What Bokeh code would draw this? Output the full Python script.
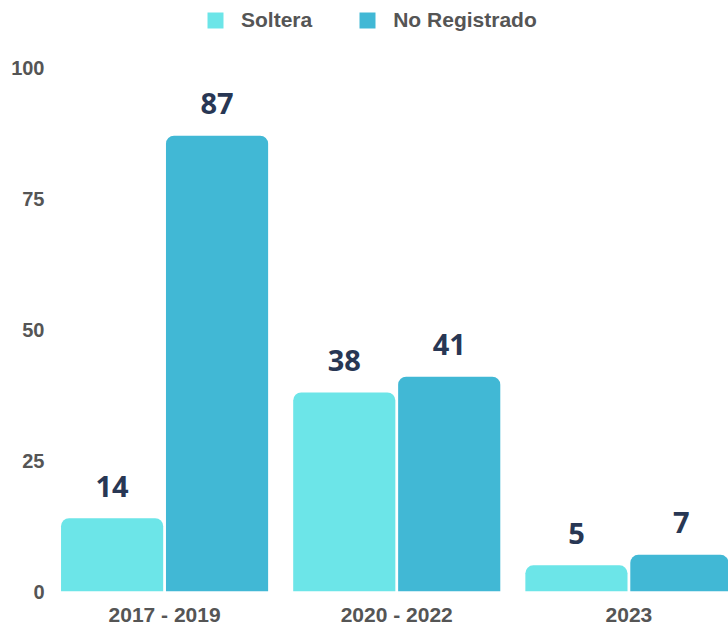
import numpy as np
from bokeh.plotting import figure
from bokeh.models import ColumnDataSource, FixedTicker, Legend, LegendItem, Range1d
from bokeh.core.properties import value
from bokeh.embed import file_html
from bokeh.resources import INLINE

periods = ["2017 - 2019", "2020 - 2022", "2023"]
soltera = [14, 38, 5]
no_registrado = [87, 41, 7]
series_names = ["Soltera", "No Registrado"]
y_ticks = [0, 25, 50, 75, 100]

c_sol = "#6CE5E8"
c_nr = "#41B8D5"
label_color = "#283754"
axis_color = "#555555"

x = np.arange(len(periods))
off = 0.226
bw = 0.44

p = figure(width=728, height=628, output_backend="svg", toolbar_location=None,
           x_range=Range1d(-0.5, 2.429), y_range=Range1d(0, 112.8),
           min_border_left=48, min_border_right=0, min_border_top=0, min_border_bottom=37)
p.outline_line_color = None
p.xgrid.grid_line_color = None
p.ygrid.grid_line_color = None

src1 = ColumnDataSource(dict(x=x - off, top=soltera, lab=[str(v) for v in soltera]))
src2 = ColumnDataSource(dict(x=x + off, top=no_registrado, lab=[str(v) for v in no_registrado]))

r1 = p.vbar(x="x", top="top", width=bw, source=src1, fill_color=c_sol, line_color=None,
            border_radius=(8, 8, 0, 0))
r2 = p.vbar(x="x", top="top", width=bw, source=src2, fill_color=c_nr, line_color=None,
            border_radius=(8, 8, 0, 0))

for s in (src1, src2):
    p.text(x="x", y="top", text="lab", source=s, text_align="center", text_baseline="alphabetic",
           y_offset=-32, text_font=value("Open Sans"), text_font_style="bold",
           text_font_size="29px", text_color=label_color)

p.xaxis.ticker = FixedTicker(ticks=list(x))
p.xaxis.major_label_overrides = {int(i): periods[i] for i in x}
p.yaxis.ticker = FixedTicker(ticks=y_ticks)
for ax in (p.xaxis, p.yaxis):
    ax.axis_line_color = None
    ax.major_tick_line_color = None
    ax.minor_tick_line_color = None
    ax.major_tick_out = 0
    ax.major_tick_in = 0
    ax.minor_tick_out = 0
    ax.major_label_text_font = "Liberation Sans"
    ax.major_label_text_font_style = "bold"
    ax.major_label_text_color = axis_color
p.xaxis.major_label_text_font_size = "21px"
p.yaxis.major_label_text_font_size = "20px"
p.xaxis.major_label_standoff = 11
p.yaxis.major_label_standoff = 4

legend = Legend(items=[LegendItem(label=series_names[0], renderers=[r1]),
                       LegendItem(label=series_names[1], renderers=[r2])],
                orientation="horizontal", location=(157, 559),
                glyph_width=20, glyph_height=20, label_standoff=16, spacing=45,
                padding=0, margin=0, border_line_color=None, background_fill_alpha=0,
                label_text_font="Liberation Sans", label_text_font_style="bold",
                label_text_font_size="21px", label_text_color=axis_color)
p.add_layout(legend, "center")

open("out.html", "w").write(file_html(p, INLINE))
